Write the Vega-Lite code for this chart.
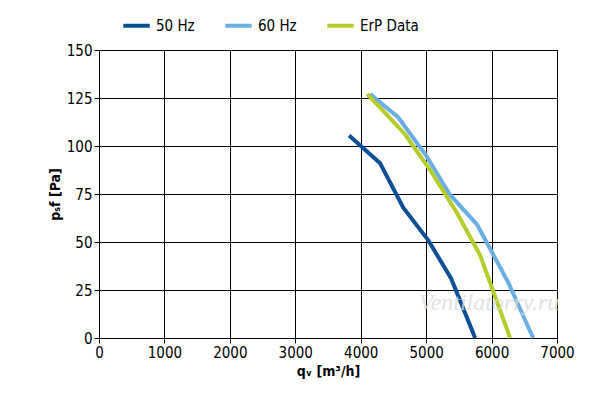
{
  "$schema": "https://vega.github.io/schema/vega-lite/v6.json",
  "autosize": "none",
  "padding": {"left": 99, "top": 50, "right": 43, "bottom": 70},
  "width": 458,
  "height": 288,
  "config": {"font": "DejaVu Sans Condensed, Liberation Sans", "view": {"stroke": "#000"}},
  "layer": [
    {
      "data": {"values": [
        {"s": "50 Hz", "q": 3823, "p": 105.5},
        {"s": "50 Hz", "q": 4297, "p": 91},
        {"s": "50 Hz", "q": 4648, "p": 68},
        {"s": "50 Hz", "q": 5030, "p": 51},
        {"s": "50 Hz", "q": 5382, "p": 31},
        {"s": "50 Hz", "q": 5749, "p": 0},
        {"s": "60 Hz", "q": 4144, "p": 127},
        {"s": "60 Hz", "q": 4572, "p": 115},
        {"s": "60 Hz", "q": 5000, "p": 95},
        {"s": "60 Hz", "q": 5367, "p": 74.5},
        {"s": "60 Hz", "q": 5780, "p": 59},
        {"s": "60 Hz", "q": 6254, "p": 29},
        {"s": "60 Hz", "q": 6636, "p": 0},
        {"s": "ErP Data", "q": 4098, "p": 127},
        {"s": "ErP Data", "q": 4327, "p": 119},
        {"s": "ErP Data", "q": 4679, "p": 106},
        {"s": "ErP Data", "q": 5061, "p": 87.5},
        {"s": "ErP Data", "q": 5474, "p": 65},
        {"s": "ErP Data", "q": 5826, "p": 43},
        {"s": "ErP Data", "q": 6284, "p": 0}
      ]},
      "mark": {"type": "line", "strokeWidth": 4},
      "encoding": {
        "x": {"field": "q", "type": "quantitative", "scale": {"domain": [0, 7000], "nice": false},
          "axis": {"values": [0,1000,2000,3000,4000,5000,6000,7000], "format": "d", "title": "qᵥ [m³/h]", "titleFontSize": 14, "titleFontWeight": "bold", "labelFontSize": 15, "labelColor": "#000", "titleColor": "#000", "gridColor": "#000", "domainColor": "#000", "tickColor": "#000", "labelFlush": false}},
        "y": {"field": "p", "type": "quantitative", "scale": {"domain": [0, 150], "nice": false},
          "axis": {"values": [0,25,50,75,100,125,150], "title": "pₛf [Pa]", "titleFontSize": 14, "titleFontWeight": "bold", "labelFontSize": 15, "labelColor": "#000", "titleColor": "#000", "gridColor": "#000", "domainColor": "#000", "tickColor": "#000"}},
        "color": {"field": "s", "type": "nominal",
          "scale": {"domain": ["50 Hz", "60 Hz", "ErP Data"], "range": ["#0b4f96", "#6aaee3", "#b5cd2a"]},
          "legend": {"title": null, "orient": "none", "legendX": 22, "legendY": -40, "direction": "horizontal", "symbolType": "stroke", "symbolStrokeWidth": 4, "symbolSize": 700, "labelFontSize": 15, "labelColor": "#000", "columnPadding": 22}}
      }
    },
    {
      "data": {"values": [{"q": 5960, "p": 18, "t": "Ventilatorry.ru"}]},
      "mark": {"type": "text", "fontSize": 24, "fontStyle": "italic", "font": "Liberation Serif", "color": "#dcdcdc", "opacity": 0.8},
      "encoding": {
        "x": {"field": "q", "type": "quantitative"},
        "y": {"field": "p", "type": "quantitative"},
        "text": {"field": "t"}
      }
    }
  ]
}
